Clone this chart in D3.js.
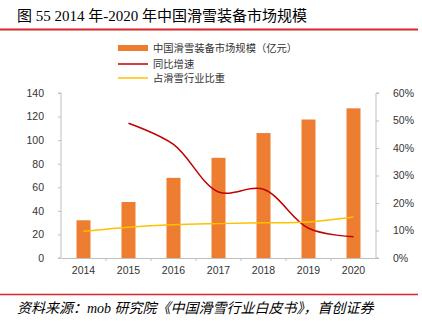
<!DOCTYPE html>
<html><head><meta charset="utf-8">
<script src="https://cdn.jsdelivr.net/npm/d3@7"></script>
<style>body{margin:0;background:#fff}svg{display:block}</style>
</head><body>
<svg id="c" width="422" height="321"></svg>
<script>
const years = ["2014","2015","2016","2017","2018","2019","2020"];
const marketSize = [32, 47.5, 68, 85, 106, 117.5, 127];
const growth = [null, 0.49, 0.413, 0.24, 0.25, 0.108, 0.077];
const share = [0.097, 0.112, 0.121, 0.125, 0.128, 0.131, 0.149];
const leftTicks = [0,20,40,60,80,100,120,140];
const rightTicks = [0,0.1,0.2,0.3,0.4,0.5,0.6];
const legendLabels = ["中国滑雪装备市场规模（亿元）","同比增速","占滑雪行业比重"];
const titleText = "图 55 2014 年-2020 年中国滑雪装备市场规模";
const sourceText = "资料来源：mob 研究院《中国滑雪行业白皮书》，首创证券";

const svg = d3.select("#c");
const L = 61, R = 376, T = 93, B = 258;
const x = d3.scaleBand().domain(years).range([L, R]);
const yL = d3.scaleLinear().domain([0,140]).range([B, T]);
const yR = d3.scaleLinear().domain([0,0.6]).range([B, T]);
const orange = "#ED7D31", red = "#C00000", yellow = "#FFC000", axisCol = "#BFBFBF";

// title
svg.append("text").attr("x", 17).attr("y", 21).attr("font-family", "'Liberation Serif','Noto Sans CJK SC',serif")
  .attr("font-size", 15).attr("fill", "#000").text(titleText);
svg.append("line").attr("x1", 0).attr("x2", 418).attr("y1", 29.5).attr("y2", 29.5).attr("stroke", "#D9262C").attr("stroke-width", 2);

// legend
const lg = svg.append("g").attr("font-family", "'Noto Sans CJK SC',sans-serif").attr("font-size", 10.3).attr("fill", "#333");
lg.append("rect").attr("x", 118).attr("y", 45).attr("width", 30).attr("height", 6).attr("fill", orange);
lg.append("line").attr("x1", 118).attr("x2", 148).attr("y1", 64).attr("y2", 64).attr("stroke", red).attr("stroke-width", 1.5);
lg.append("line").attr("x1", 118).attr("x2", 148).attr("y1", 78).attr("y2", 78).attr("stroke", yellow).attr("stroke-width", 1.5);
[48, 64, 78].forEach((yy, i) => lg.append("text").attr("x", 153).attr("y", yy).attr("dy", "0.35em").text(legendLabels[i]));

// axes
const fontAx = "'Liberation Sans',Arial,sans-serif";
const gl = svg.append("g").attr("transform", `translate(${L},0)`)
  .call(d3.axisLeft(yL).tickValues(leftTicks).tickSize(3).tickPadding(14));
const gr = svg.append("g").attr("transform", `translate(${R},0)`)
  .call(d3.axisRight(yR).tickValues(rightTicks).tickSize(3).tickPadding(14).tickFormat(d3.format(".0%")));
const gb = svg.append("g").attr("transform", `translate(0,${B})`)
  .call(d3.axisBottom(x).tickSize(0).tickPadding(9));
[gl, gr, gb].forEach(g => {
  g.selectAll("path,line").attr("stroke", axisCol);
  g.selectAll("text").attr("font-family", fontAx).attr("font-size", 10.5).attr("fill", "#333");
});
gr.select(".domain").attr("d", `M3,${T}H0V${B}H3`);
gl.select(".domain").attr("d", `M-3,${T}H0V${B}H-3`);
// category separator ticks
svg.append("g").selectAll("line").data(years.slice(1)).join("line")
  .attr("x1", d => x(d)).attr("x2", d => x(d)).attr("y1", B).attr("y2", B + 3).attr("stroke", axisCol);

// bars
const bw = 14;
svg.append("g").selectAll("rect").data(marketSize).join("rect")
  .attr("x", (d, i) => x(years[i]) + x.bandwidth()/2 - bw/2)
  .attr("y", d => yL(d)).attr("width", bw).attr("height", d => B - yL(d)).attr("fill", orange);

// lines
const line = d3.line().defined(d => d[1] != null)
  .x(d => x(d[0]) + x.bandwidth()/2).y(d => yR(d[1])).curve(d3.curveCatmullRom.alpha(0.5));
svg.append("path").datum(years.map((y, i) => [y, growth[i]]).filter(d => d[1] != null))
  .attr("d", line).attr("fill", "none").attr("stroke", red).attr("stroke-width", 1.5);
svg.append("path").datum(years.map((y, i) => [y, share[i]]))
  .attr("d", line).attr("fill", "none").attr("stroke", yellow).attr("stroke-width", 1.5);

// footer
svg.append("line").attr("x1", 0).attr("x2", 418).attr("y1", 294.5).attr("y2", 294.5).attr("stroke", "#D9262C").attr("stroke-width", 1.5);
svg.append("text").attr("x", 17).attr("y", 313).attr("font-family", "'Liberation Serif','Noto Sans CJK SC',serif")
  .attr("font-style", "italic").attr("font-size", 14).attr("fill", "#000").text(sourceText);
</script>
</body></html>
